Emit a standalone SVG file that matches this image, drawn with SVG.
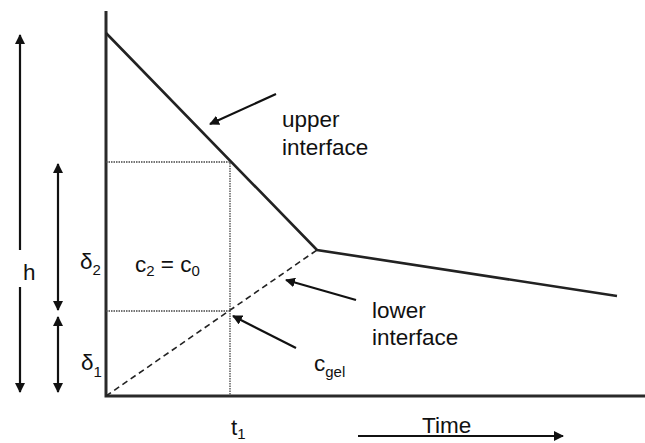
<svg xmlns="http://www.w3.org/2000/svg" width="645" height="443" viewBox="0 0 645 443">
<defs>
<marker id="ah" viewBox="0 0 10 10" refX="9" refY="5" markerWidth="10" markerHeight="10" markerUnits="userSpaceOnUse" orient="auto-start-reverse">
<path d="M0,0 L10,5 L0,10 Z" fill="#111"/>
</marker>
</defs>
<style>
text{font-family:"Liberation Sans",Arial,sans-serif;fill:#111;font-size:22.5px}
.sub{font-size:15px}
.axis{stroke:#2a2a2a;stroke-width:3;fill:none}
.curve{stroke:#222;stroke-width:2.6;fill:none}
.dash{stroke:#222;stroke-width:1.6;stroke-dasharray:6,4;fill:none}
.dot{stroke:#444;stroke-width:1.3;stroke-dasharray:1.5,1;fill:none}
.arr{stroke:#111;stroke-width:2.2;fill:none}
</style>
<rect width="645" height="443" fill="#fff"/>
<g id="axes">
<path class="axis" d="M106,11 V396 H645"/>
</g>
<g id="curves">
<polyline class="curve" points="106,33 317,250 617,296"/>
<line class="dash" x1="106" y1="396" x2="317" y2="250"/>
<path class="dot" d="M106,162 H230 V396 M106,311 H230"/>
</g>
<g id="connectors">
<line class="arr" x1="20" y1="250" x2="20" y2="35" marker-end="url(#ah)"/>
<line class="arr" x1="20" y1="287" x2="20" y2="392" marker-end="url(#ah)"/>
<line class="arr" x1="58" y1="164" x2="58" y2="310" marker-start="url(#ah)" marker-end="url(#ah)"/>
<line class="arr" x1="58" y1="317" x2="58" y2="392" marker-start="url(#ah)" marker-end="url(#ah)"/>
<line class="arr" x1="276" y1="94" x2="210" y2="124" marker-end="url(#ah)"/>
<line class="arr" x1="356" y1="300" x2="286" y2="280" marker-end="url(#ah)"/>
<line class="arr" x1="296" y1="348" x2="233" y2="316" marker-end="url(#ah)"/>
<line class="arr" x1="358" y1="436" x2="563" y2="436" marker-end="url(#ah)"/>
</g>
<g id="label-h"><text x="23" y="280">h</text></g>
<g id="label-d2"><text x="80" y="269">δ<tspan class="sub" dy="6">2</tspan></text></g>
<g id="label-d1"><text x="81" y="370">δ<tspan class="sub" dy="7">1</tspan></text></g>
<g id="label-c2c0"><text x="135" y="272">c<tspan class="sub" dy="4">2</tspan><tspan dy="-4"> = c</tspan><tspan class="sub" dy="4">0</tspan></text></g>
<g id="label-upper"><text x="282" y="127">upper</text><text x="282" y="155">interface</text></g>
<g id="label-lower"><text x="372" y="318">lower</text><text x="372" y="345">interface</text></g>
<g id="label-cgel"><text x="314" y="371">c<tspan class="sub" dy="6">gel</tspan></text></g>
<g id="label-t1"><text x="231" y="435">t<tspan class="sub" dy="4">1</tspan></text></g>
<g id="label-time"><text x="422" y="433">Time</text></g>
</svg>
